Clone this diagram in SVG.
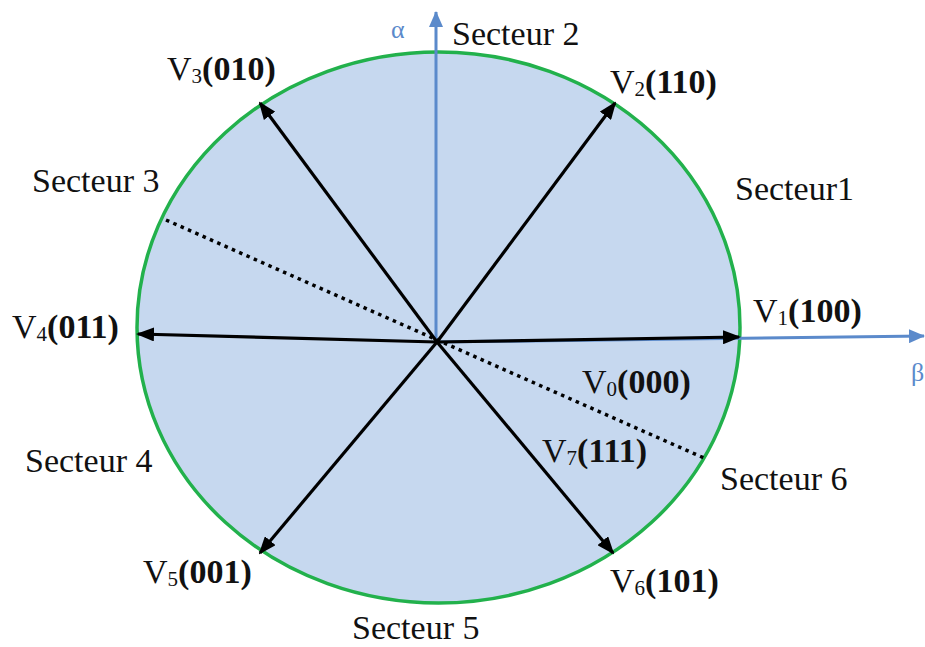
<svg xmlns="http://www.w3.org/2000/svg" width="925" height="647" viewBox="0 0 925 647">
<style>
text{font-family:"Liberation Serif","Times New Roman",serif;fill:#111}
.lbl{font-size:34px}
.sub{font-size:21px}
.b{font-weight:bold}
.ax{font-size:26px;fill:#5B8ACB}
.vec{stroke:#000;stroke-width:3.2;fill:none;marker-end:url(#ah)}
.axis{stroke:#5B8ACB;stroke-width:3;fill:none;marker-end:url(#bh)}
</style>
<defs>
<marker id="ah" markerUnits="userSpaceOnUse" viewBox="0 0 18 14" markerWidth="18" markerHeight="14" refX="16" refY="7" orient="auto">
<path d="M0,0 L18,7 L0,14 z" fill="#000"/>
</marker>
<marker id="bh" markerUnits="userSpaceOnUse" viewBox="0 0 16 14" markerWidth="16" markerHeight="14" refX="15" refY="7" orient="auto">
<path d="M0,0 L16,7 L0,14 z" fill="#5B8ACB"/>
</marker>
</defs>
<rect width="925" height="647" fill="#fff"/>
<g id="disk">
<ellipse cx="438.5" cy="327.5" rx="301.5" ry="275.5" fill="#C6D8EF" stroke="#22B14C" stroke-width="3.5"/>
</g>
<g id="connectors">
<line class="axis" x1="436" y1="342" x2="436" y2="12"/>
<line class="axis" x1="437" y1="342" x2="924" y2="336"/>
<line x1="166" y1="220" x2="704" y2="458" stroke="#000" stroke-width="3.5" stroke-dasharray="3.5 4.5"/>
<line class="vec" x1="437" y1="342" x2="739" y2="337"/>
<line class="vec" x1="437" y1="342" x2="615" y2="103"/>
<line class="vec" x1="437" y1="342" x2="260" y2="103"/>
<line class="vec" x1="437" y1="342" x2="138" y2="334"/>
<line class="vec" x1="437" y1="342" x2="260" y2="553"/>
<line class="vec" x1="437" y1="342" x2="613" y2="553"/>
</g>
<g id="axis-alpha"><text class="ax" x="391" y="38">α</text></g>
<g id="axis-beta"><text class="ax" x="911" y="381">β</text></g>
<g id="v1"><text class="lbl" x="753" y="322">V<tspan class="sub" dy="3">1</tspan><tspan class="b" dy="-3">(100)</tspan></text></g>
<g id="v2"><text class="lbl" x="610" y="93">V<tspan class="sub" dy="3">2</tspan><tspan class="b" dy="-3">(110)</tspan></text></g>
<g id="v3"><text class="lbl" x="167" y="80">V<tspan class="sub" dy="3">3</tspan><tspan class="b" dy="-3">(010)</tspan></text></g>
<g id="v4"><text class="lbl" x="12" y="338">V<tspan class="sub" dy="3">4</tspan><tspan class="b" dy="-3">(011)</tspan></text></g>
<g id="v5"><text class="lbl" x="143" y="583">V<tspan class="sub" dy="3">5</tspan><tspan class="b" dy="-3">(001)</tspan></text></g>
<g id="v6"><text class="lbl" x="610" y="592">V<tspan class="sub" dy="3">6</tspan><tspan class="b" dy="-3">(101)</tspan></text></g>
<g id="v0"><text class="lbl" x="582" y="393">V<tspan class="sub" dy="3">0</tspan><tspan class="b" dy="-3">(000)</tspan></text></g>
<g id="v7"><text class="lbl" x="542" y="462">V<tspan class="sub" dy="3">7</tspan><tspan class="b" dy="-3">(111)</tspan></text></g>
<g id="s1"><text class="lbl" x="735" y="200">Secteur1</text></g>
<g id="s2"><text class="lbl" x="452" y="45">Secteur 2</text></g>
<g id="s3"><text class="lbl" x="32" y="192">Secteur 3</text></g>
<g id="s4"><text class="lbl" x="25" y="472">Secteur 4</text></g>
<g id="s5"><text class="lbl" x="352" y="639">Secteur 5</text></g>
<g id="s6"><text class="lbl" x="720" y="490">Secteur 6</text></g>
</svg>
